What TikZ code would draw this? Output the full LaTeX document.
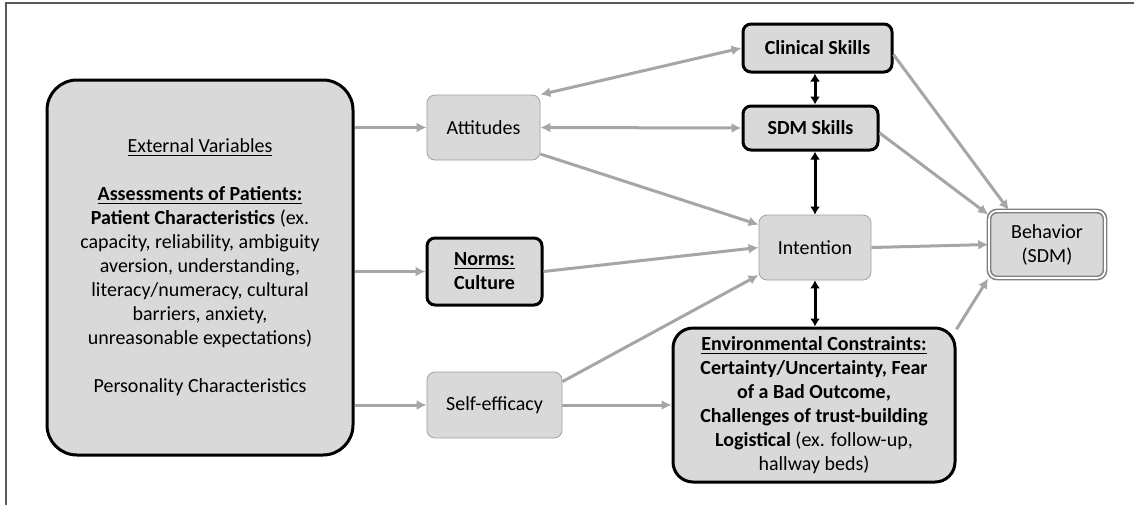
\documentclass[tikz,border=0pt]{standalone}
\usepackage{fontspec}
\setmainfont{Carlito}
\usepackage{xcolor}
\definecolor{cFill}{HTML}{D9D9D9}
\definecolor{cLine}{HTML}{A6A6A6}
\definecolor{cEdge}{HTML}{A0A0A0}
\definecolor{cFrame}{HTML}{595959}
\usetikzlibrary{arrows.meta}
\tikzset{
  node-soft/.style={draw=cEdge,fill=cFill,rounded corners=4pt,align=center,
    inner sep=0pt,font=\fontsize{10}{12}\selectfont},
  node-hard/.style={draw=black,line width=1.5pt,fill=cFill,rounded corners=4pt,
    align=center,inner sep=0pt,font=\fontsize{10}{12}\selectfont},
  node-goal/.style={draw=gray,thick,double=white,double distance=0.8pt,fill=cFill,
    rounded corners=4pt,align=center,inner sep=0pt,font=\fontsize{10}{12}\selectfont},
  arrow/.style={-{Latex[length=5pt,width=5pt]},line width=1.5pt,draw=cLine},
  arrow-both/.style={{Latex[length=5pt,width=5pt]}-{Latex[length=5pt,width=5pt]},
    line width=1.5pt,draw=cLine},
  arrow-link/.style={{Latex[length=4pt,width=5pt]}-{Latex[length=4pt,width=5pt]},
    line width=1.5pt,draw=black},
}
\begin{document}
\begin{tikzpicture}[x=0.5pt,y=-0.5pt]
  \useasboundingbox (0,0) rectangle (1134,505);
  % partial frame
  \draw[cFrame,line width=0.6pt] (6,505) -- (6,3) -- (1134,3);

  \node[node-hard,rounded corners=15pt,minimum width=153pt,minimum height=187.5pt]
    (ext) at (200,267.5) {\underline{External Variables}\\[12pt]
    \underline{\textbf{Assessments of Patients:}}\\
    \textbf{Patient Characteristics} (ex.\\
    capacity, reliability, ambiguity\\
    aversion, understanding,\\
    literacy/numeracy, cultural\\
    barriers, anxiety,\\
    unreasonable expectations)\\[12pt]
    Personality Characteristics};
  \node[node-soft,minimum width=56.5pt,minimum height=32.5pt] (att) at (483.5,127.5) {Attitudes};
  \node[node-hard,minimum width=57.5pt,minimum height=33.5pt] (norms) at (484.5,271.5)
    {\underline{\textbf{Norms:}}\\\textbf{Culture}};
  \node[node-soft,minimum width=67.5pt,minimum height=33pt] (self) at (494.5,405) {Self-efficacy};
  \node[node-hard,minimum width=74.5pt,minimum height=24pt] (clin) at (817.5,48) {\textbf{Clinical Skills}};
  \node[node-hard,minimum width=67.5pt,minimum height=22pt] (sdm) at (810.5,128) {\textbf{SDM Skills}};
  \node[node-soft,minimum width=56pt,minimum height=32.5pt] (int) at (815,247.5) {Intention};
  \node[node-hard,rounded corners=10pt,minimum width=141pt,minimum height=77pt] (env) at (814,405)
    {\underline{\textbf{Environmental Constraints:}}\\
    \textbf{Certainty/Uncertainty, Fear}\\
    \textbf{of a Bad Outcome,}\\
    \textbf{Challenges of trust-building}\\
    \textbf{Logistical} (ex. follow-up,\\
    hallway beds)};
  \node[node-goal,minimum width=58pt,minimum height=33.5pt] (beh) at (1047,244.5) {Behavior\\(SDM)};

  \draw[arrow] (ext.east |- att) -- (att.west);
  \draw[arrow] (ext.east |- norms) -- (norms.west);
  \draw[arrow] (ext.east |- self) -- (self.west);
  \draw[arrow-both] (att.north east) -- (clin.west);
  \draw[arrow-both] (att.east) -- (sdm.west);
  \draw[arrow] (att.-25) -- (int.158);
  \draw[arrow] (norms.east) -- (int.west);
  \draw[arrow] (self.19) -- (int.206);
  \draw[arrow] (self.east) -- (env.west);
  \draw[arrow] (clin.-5) -- (beh.138);
  \draw[arrow] (sdm.-4) -- (beh.153);
  \draw[arrow] (int.east) -- (beh.west);
  \draw[arrow] (env.28) -- (beh.210);
  \draw[arrow-link] (clin.south -| int.north) -- (sdm.north -| int.north);
  \draw[arrow-link] (sdm.south -| int.north) -- (int.north);
  \draw[arrow-link] (int.south) -- (env.north -| int.south);
\end{tikzpicture}
\end{document}
